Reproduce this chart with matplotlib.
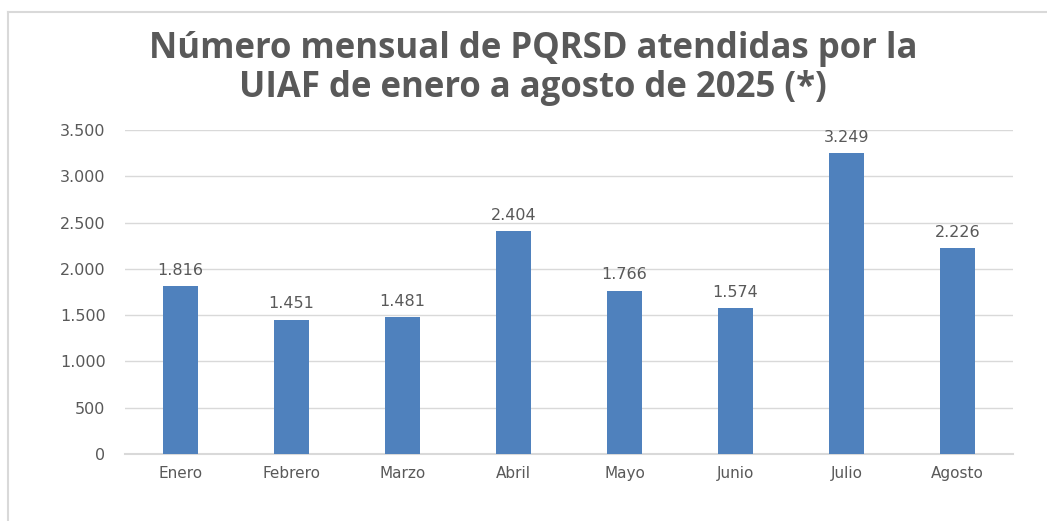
import matplotlib.pyplot as plt
import numpy as np
from matplotlib.lines import Line2D
from matplotlib.ticker import FuncFormatter

months = ["Enero", "Febrero", "Marzo", "Abril", "Mayo", "Junio", "Julio", "Agosto"]
pqrsd = [1816, 1451, 1481, 2404, 1766, 1574, 3249, 2226]
y_ticks = [0, 500, 1000, 1500, 2000, 2500, 3000, 3500]

title = "Número mensual de PQRSD atendidas por la\nUIAF de enero a agosto de 2025 (*)"

BLUE = "#4f81bd"
GRAY_TEXT = "#595959"
GRID = "#d9d9d9"

plt.rcParams["font.family"] = ["DejaVu Sans"]


def thousands(v, _pos=None):
    return f"{int(v):,}".replace(",", ".")


fig = plt.figure(figsize=(10.47, 5.21), dpi=100)
ax = fig.add_axes([0.1194, 0.1286, 0.8481, 0.6219])

x = np.arange(len(months))
bars = ax.bar(x, pqrsd, width=0.31, color=BLUE, zorder=3)

for bar, val in zip(bars, pqrsd):
    ax.annotate(
        thousands(val),
        (bar.get_x() + bar.get_width() / 2, bar.get_height()),
        xytext=(0, 6), textcoords="offset points",
        ha="center", va="bottom", fontsize=11.5, color=GRAY_TEXT,
    )

ax.set_xlim(-0.5, len(months) - 0.5)
ax.set_ylim(0, 3500)
ax.set_yticks(y_ticks)
ax.yaxis.set_major_formatter(FuncFormatter(thousands))
ax.set_xticks(x)
ax.set_xticklabels(months)
ax.tick_params(axis="both", length=0, colors=GRAY_TEXT)
ax.tick_params(axis="y", labelsize=11.5, pad=14)
ax.tick_params(axis="x", labelsize=11, pad=9)
ax.grid(axis="y", color=GRID, linewidth=1, zorder=0)
for side in ["top", "right", "left"]:
    ax.spines[side].set_visible(False)
ax.spines["bottom"].set_color(GRID)
ax.spines["bottom"].set_linewidth(1.5)

fig.text(0.509, 0.869, title, ha="center", va="center", fontsize=25,
         fontweight="bold", color=GRAY_TEXT, family="Open Sans", linespacing=1.1)

# chart frame (cropped at right and bottom)
fig.add_artist(Line2D([8 / 1047, 8 / 1047], [0, 1 - 12 / 521], color=GRID, lw=1.5))
fig.add_artist(Line2D([8 / 1047, 1], [1 - 12 / 521, 1 - 12 / 521], color=GRID, lw=1.5))

fig.savefig("out.png", dpi=100)
